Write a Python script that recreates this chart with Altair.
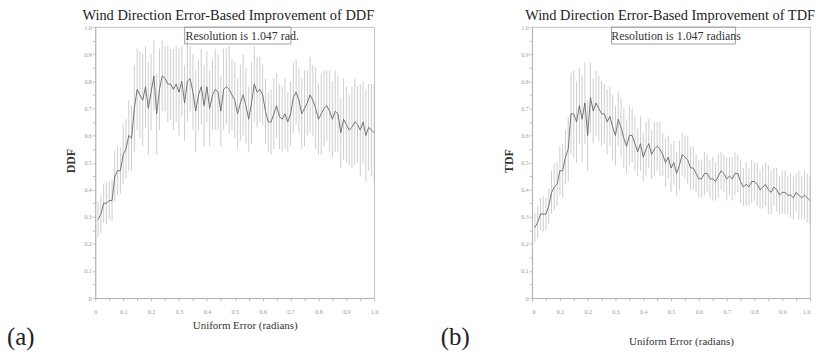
import altair as alt
import pandas as pd

# Uniform error levels (radians)
x_vals = [
    0.01, 0.02, 0.03, 0.04, 0.05, 0.06, 0.07, 0.08, 0.09, 0.10,
    0.11, 0.12, 0.13, 0.14, 0.15, 0.16, 0.17, 0.18, 0.19, 0.20,
    0.21, 0.22, 0.23, 0.24, 0.25, 0.26, 0.27, 0.28, 0.29, 0.30,
    0.31, 0.32, 0.33, 0.34, 0.35, 0.36, 0.37, 0.38, 0.39, 0.40,
    0.41, 0.42, 0.43, 0.44, 0.45, 0.46, 0.47, 0.48, 0.49, 0.50,
    0.51, 0.52, 0.53, 0.54, 0.55, 0.56, 0.57, 0.58, 0.59, 0.60,
    0.61, 0.62, 0.63, 0.64, 0.65, 0.66, 0.67, 0.68, 0.69, 0.70,
    0.71, 0.72, 0.73, 0.74, 0.75, 0.76, 0.77, 0.78, 0.79, 0.80,
    0.81, 0.82, 0.83, 0.84, 0.85, 0.86, 0.87, 0.88, 0.89, 0.90,
    0.91, 0.92, 0.93, 0.94, 0.95, 0.96, 0.97, 0.98, 0.99, 1.00,
]

# DDF: mean and error-bar half width
ddf_mean = [
    0.29, 0.31, 0.35, 0.35, 0.36, 0.36, 0.45, 0.47, 0.47, 0.53,
    0.55, 0.60, 0.59, 0.70, 0.77, 0.75, 0.73, 0.78, 0.70, 0.76,
    0.82, 0.68, 0.77, 0.82, 0.81, 0.79, 0.79, 0.77, 0.79, 0.76,
    0.80, 0.72, 0.80, 0.81, 0.76, 0.69, 0.75, 0.78, 0.71, 0.78,
    0.70, 0.75, 0.77, 0.76, 0.69, 0.77, 0.78, 0.77, 0.75, 0.73,
    0.68, 0.72, 0.75, 0.71, 0.66, 0.72, 0.79, 0.76, 0.77, 0.75,
    0.69, 0.65, 0.65, 0.68, 0.71, 0.67, 0.66, 0.68, 0.65, 0.68,
    0.74, 0.76, 0.73, 0.68, 0.70, 0.72, 0.75, 0.73, 0.70, 0.66,
    0.68, 0.70, 0.71, 0.69, 0.66, 0.69, 0.68, 0.61, 0.66, 0.64,
    0.62, 0.63, 0.65, 0.64, 0.62, 0.65, 0.60, 0.63, 0.62, 0.61,
]
ddf_err = [
    0.065, 0.07, 0.07, 0.075, 0.07, 0.075, 0.095, 0.09, 0.085, 0.11,
    0.11, 0.13, 0.12, 0.16, 0.15, 0.16, 0.17, 0.15, 0.17, 0.14,
    0.13, 0.15, 0.15, 0.13, 0.12, 0.14, 0.13, 0.15, 0.14, 0.16,
    0.13, 0.14, 0.15, 0.12, 0.14, 0.15, 0.13, 0.14, 0.15, 0.13,
    0.14, 0.13, 0.15, 0.14, 0.13, 0.15, 0.14, 0.16, 0.13, 0.14,
    0.13, 0.14, 0.15, 0.14, 0.12, 0.15, 0.14, 0.13, 0.12, 0.11,
    0.12, 0.11, 0.12, 0.13, 0.12, 0.12, 0.12, 0.13, 0.11, 0.12,
    0.13, 0.12, 0.12, 0.13, 0.14, 0.12, 0.14, 0.13, 0.15, 0.13,
    0.15, 0.14, 0.13, 0.15, 0.14, 0.15, 0.14, 0.13, 0.15, 0.14,
    0.13, 0.15, 0.16, 0.14, 0.17, 0.15, 0.17, 0.16, 0.17, 0.18,
]

# TDF: mean and error-bar half width
tdf_mean = [
    0.26, 0.28, 0.31, 0.31, 0.31, 0.34, 0.39, 0.41, 0.42, 0.47,
    0.47, 0.52, 0.55, 0.68, 0.68, 0.65, 0.71, 0.66, 0.72, 0.60,
    0.74, 0.69, 0.72, 0.70, 0.68, 0.68, 0.65, 0.67, 0.63, 0.60,
    0.66, 0.63, 0.59, 0.56, 0.60, 0.60, 0.57, 0.54, 0.57, 0.52,
    0.55, 0.57, 0.53, 0.55, 0.56, 0.55, 0.53, 0.50, 0.52, 0.48,
    0.50, 0.46, 0.49, 0.53, 0.52, 0.51, 0.48, 0.48, 0.46, 0.44,
    0.44, 0.46, 0.46, 0.44, 0.44, 0.43, 0.45, 0.47, 0.46, 0.44,
    0.45, 0.44, 0.46, 0.46, 0.43, 0.41, 0.42, 0.41, 0.43, 0.43,
    0.42, 0.40, 0.41, 0.42, 0.40, 0.39, 0.41, 0.40, 0.38, 0.39,
    0.39, 0.38, 0.38, 0.37, 0.39, 0.38, 0.37, 0.38, 0.37, 0.36,
]
tdf_err = [
    0.055, 0.06, 0.06, 0.065, 0.06, 0.065, 0.08, 0.085, 0.08, 0.09,
    0.10, 0.10, 0.12, 0.15, 0.16, 0.15, 0.14, 0.16, 0.15, 0.13,
    0.13, 0.12, 0.12, 0.12, 0.12, 0.11, 0.12, 0.11, 0.12, 0.11,
    0.10, 0.11, 0.11, 0.10, 0.11, 0.10, 0.10, 0.09, 0.10, 0.09,
    0.10, 0.09, 0.09, 0.10, 0.09, 0.10, 0.08, 0.09, 0.08, 0.09,
    0.08, 0.08, 0.09, 0.08, 0.08, 0.09, 0.08, 0.08, 0.07, 0.07,
    0.07, 0.08, 0.07, 0.07, 0.08, 0.07, 0.08, 0.07, 0.07, 0.08,
    0.07, 0.08, 0.08, 0.07, 0.08, 0.07, 0.08, 0.07, 0.08, 0.07,
    0.08, 0.07, 0.08, 0.08, 0.09, 0.08, 0.07, 0.08, 0.07, 0.08,
    0.08, 0.07, 0.08, 0.08, 0.07, 0.09, 0.08, 0.09, 0.09, 0.09,
]

# Axis ticks every 0.05, labelled every 0.1
tick_values = [0, 0.05, 0.1, 0.15, 0.2, 0.25, 0.3, 0.35, 0.4, 0.45, 0.5,
               0.55, 0.6, 0.65, 0.7, 0.75, 0.8, 0.85, 0.9, 0.95, 1.0]

SERIF = "Liberation Serif"
GRID = "#b5b5b5"
LABEL_EXPR = ("round(datum.value * 20) % 2 == 0 ? "
              "(datum.value == 0 ? '0' : format(datum.value, '.1f')) : ''")

H = 273


def panel(mean, err, ylabel, title, res_text, title_cx, box_x0, box_x1,
          res_cx, xtitle_y, ylabel_x, tag, tag_x, width, flush):
    df = pd.DataFrame({
        "x": x_vals,
        "mean": mean,
        "lo": [m - e for m, e in zip(mean, err)],
        "hi": [m + e for m, e in zip(mean, err)],
    })
    xs = alt.Scale(domain=[0, 1], nice=False, zero=False)
    ys = alt.Scale(domain=[0, 1], nice=False)

    # The same axis objects go on every layer so the merged axes agree.
    x_axis = alt.Axis(
        values=tick_values, labelExpr=LABEL_EXPR, tickCount=21,
        labelOverlap=False, labelFlush=flush, labelBound=False,
        labelSeparation=0,
        title="Uniform Error (radians)", titleFontSize=11,
        titleFontWeight="normal", labelPadding=8,
        titleX=width / 2 + 10, titleY=xtitle_y)
    y_axis = alt.Axis(
        values=tick_values, labelExpr=LABEL_EXPR, tickCount=21,
        labelOverlap=False, labelFlush=False, labelBound=False,
        labelSeparation=0,
        title=ylabel, titleFontSize=12, titleFontWeight="bold",
        labelPadding=1, titleX=ylabel_x, titleY=H / 2 - 2,
        titleAngle=-90)

    bars = alt.Chart(df).mark_rule(color="#b8b8b8", strokeWidth=0.7).encode(
        x=alt.X("x:Q", scale=xs, axis=x_axis),
        y=alt.Y("lo:Q", scale=ys, axis=y_axis),
        y2="hi:Q",
    )
    line = alt.Chart(df).mark_line(color="#666666", strokeWidth=0.9).encode(
        x=alt.X("x:Q", scale=xs, axis=x_axis),
        y=alt.Y("mean:Q", scale=ys, axis=y_axis),
    )

    label_df = pd.DataFrame({"t": [title], "r": [res_text], "g": [tag]})
    head = alt.Chart(label_df).mark_text(
        font=SERIF, fontSize=14.5, color="#222", align="center",
        baseline="middle").encode(
        x=alt.value(title_cx), y=alt.value(-11), text="t:N")
    box = alt.Chart(label_df).mark_rect(
        fillOpacity=0, stroke="#8a8a8a", strokeWidth=0.8).encode(
        x=alt.value(box_x0), x2=alt.value(box_x1),
        y=alt.value(0), y2=alt.value(17))
    res = alt.Chart(label_df).mark_text(
        font=SERIF, fontSize=12, color="#333", align="center",
        baseline="middle").encode(
        x=alt.value(res_cx), y=alt.value(9), text="r:N")
    tag_mark = alt.Chart(label_df).mark_text(
        font=SERIF, fontSize=25, color="#222", align="left",
        baseline="middle").encode(
        x=alt.value(tag_x), y=alt.value(312), text="g:N")

    return alt.layer(bars, line, box, res, head, tag_mark).properties(
        width=width, height=H)


left = panel(ddf_mean, ddf_err, "DDF",
             "Wind Direction Error-Based Improvement of DDF",
             "Resolution is 1.047 rad.",
             title_cx=134, box_x0=90, box_x1=197, res_cx=148,
             xtitle_y=28, ylabel_x=-25, tag="(a)", tag_x=-89, width=281,
             flush=False)
right = panel(tdf_mean, tdf_err, "TDF",
              "Wind Direction Error-Based Improvement of TDF",
              "Resolution is 1.047 radians",
              title_cx=139, box_x0=80, box_x1=205, res_cx=145,
              xtitle_y=44, ylabel_x=-24, tag="(b)", tag_x=-92, width=280,
              flush=True)

chart = alt.hconcat(left, right, spacing=61).properties(
    padding={"left": 6, "top": 6, "right": 0, "bottom": 0},
    background="white",
).configure_view(
    stroke=GRID, strokeWidth=0.8
).configure_axis(
    grid=False, domainColor=GRID, tickColor=GRID, tickSize=3,
    tickWidth=0.8, labelFont=SERIF, labelFontSize=6, labelColor="#9a9a9a",
    labelOverlap=False,
    titleFont=SERIF, titleColor="#333", titleAlign="center",
    titleBaseline="middle",
)

chart.save("out.html", embed_options={"renderer": "svg", "actions": False})
